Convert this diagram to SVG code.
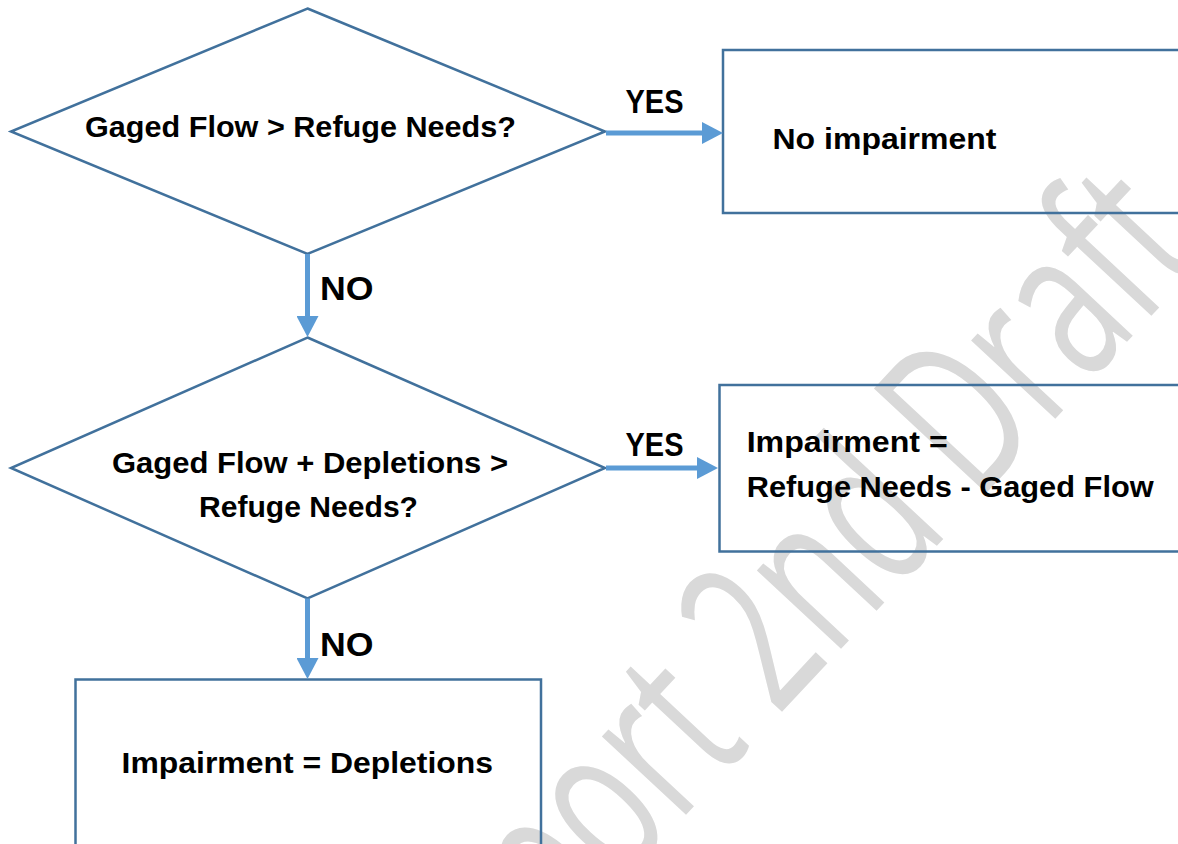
<svg xmlns="http://www.w3.org/2000/svg" width="1178" height="844" viewBox="0 0 1178 844">
<style>
.shape{fill:none;stroke:#41719c;stroke-width:2.5}
.conn{stroke:#5b9bd5;stroke-width:5;fill:none}
.t{font-family:"Liberation Sans",Arial,sans-serif;font-weight:bold;font-size:30px;fill:#000}
.lbl{font-size:33px}
.wm{font-family:"Open Sans","Liberation Sans",sans-serif;font-size:215px;fill:#d9d9d9}
</style>
<defs>
<marker id="ah" markerUnits="userSpaceOnUse" markerWidth="22" markerHeight="22" refX="0" refY="11" orient="auto">
<path d="M0,0 L21,11 L0,22 Z" fill="#5b9bd5"/>
</marker>
</defs>
<rect width="1178" height="844" fill="#fff"/>
<g id="watermark">
<text class="wm" transform="translate(560,950) rotate(-47)" x="0" y="0" textLength="950" lengthAdjust="spacingAndGlyphs">port 2nd Draft</text>
</g>
<g id="decision1">
<polygon class="shape" points="307.5,8.5 605,131.5 307.5,254 11,131.5"/>
<text class="t" x="300.5" y="137" text-anchor="middle" textLength="431" lengthAdjust="spacingAndGlyphs">Gaged Flow &gt; Refuge Needs?</text>
</g>
<g id="result1">
<path class="shape" d="M1180,50 H723 V213 H1180"/>
<text class="t" x="772.5" y="149" textLength="224" lengthAdjust="spacingAndGlyphs">No impairment</text>
</g>
<g id="decision2">
<polygon class="shape" points="307.5,337.5 605,468 307.5,598.5 11,468"/>
<text class="t" x="310" y="472.7" text-anchor="middle" textLength="396" lengthAdjust="spacingAndGlyphs">Gaged Flow + Depletions &gt;</text>
<text class="t" x="308.5" y="517.3" text-anchor="middle" textLength="219" lengthAdjust="spacingAndGlyphs">Refuge Needs?</text>
</g>
<g id="result2">
<path class="shape" d="M1180,385 H719.5 V551.5 H1180"/>
<text class="t" x="746.7" y="451.7" textLength="201" lengthAdjust="spacingAndGlyphs">Impairment =</text>
<text class="t" x="746.7" y="496.7" textLength="407" lengthAdjust="spacingAndGlyphs">Refuge Needs - Gaged Flow</text>
</g>
<g id="result3">
<path class="shape" d="M75.5,846 V679.5 H541 V846"/>
<text class="t" x="121.6" y="773" textLength="371.5" lengthAdjust="spacingAndGlyphs">Impairment = Depletions</text>
</g>
<g id="connectors">
<line class="conn" x1="606" y1="133" x2="702" y2="133" marker-end="url(#ah)"/>
<line class="conn" x1="606" y1="468" x2="697" y2="468" marker-end="url(#ah)"/>
<line class="conn" x1="307.5" y1="254" x2="307.5" y2="316" marker-end="url(#ah)"/>
<line class="conn" x1="307.5" y1="598.5" x2="307.5" y2="658" marker-end="url(#ah)"/>
<text class="t lbl" x="625.5" y="113" textLength="58" lengthAdjust="spacingAndGlyphs">YES</text>
<text class="t lbl" x="625.5" y="456" textLength="58" lengthAdjust="spacingAndGlyphs">YES</text>
<text class="t lbl" x="320" y="300" textLength="53.5" lengthAdjust="spacingAndGlyphs">NO</text>
<text class="t lbl" x="320" y="656" textLength="53.5" lengthAdjust="spacingAndGlyphs">NO</text>
</g>
</svg>
